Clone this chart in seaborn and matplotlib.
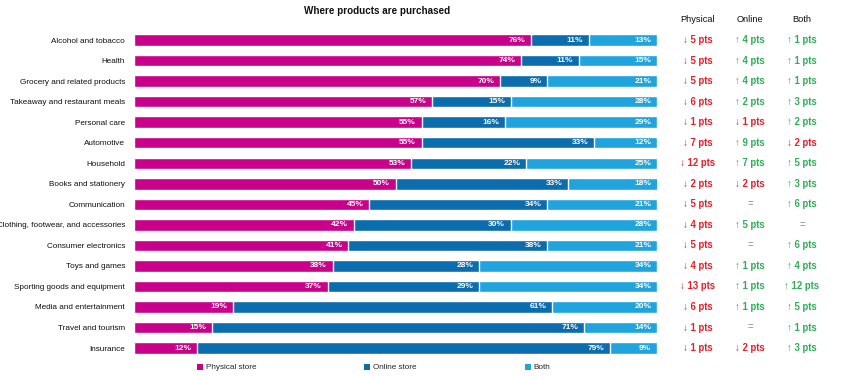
import matplotlib
matplotlib.use("Agg")
import matplotlib.pyplot as plt
from matplotlib.patches import Patch
from matplotlib.transforms import blended_transform_factory
import seaborn as sns
import pandas as pd
import numpy as np

categories = ["Alcohol and tobacco", "Health", "Grocery and related products",
              "Takeaway and restaurant meals", "Personal care", "Automotive",
              "Household", "Books and stationery", "Communication",
              "Clothing, footwear, and accessories", "Consumer electronics",
              "Toys and games", "Sporting goods and equipment",
              "Media and entertainment", "Travel and tourism", "Insurance"]
physical = [76, 74, 70, 57, 55, 55, 53, 50, 45, 42, 41, 38, 37, 19, 15, 12]
online = [11, 11, 9, 15, 16, 33, 22, 33, 34, 30, 38, 28, 29, 61, 71, 79]
both = [13, 15, 21, 28, 29, 12, 25, 18, 21, 28, 21, 34, 34, 20, 14, 9]
chg_physical = [-5, -5, -5, -6, -1, -7, -12, -2, -5, -4, -5, -4, -13, -6, -1, -1]
chg_online = [4, 4, 4, 2, -1, 9, 7, -2, 0, 5, 0, 1, 1, 1, 0, -2]
chg_both = [1, 1, 1, 3, 2, -2, 5, 3, 6, 0, 6, 4, 12, 5, 1, 3]
series_names = ["Physical store", "Online store", "Both"]
col_headers = ["Physical", "Online", "Both"]
title = "Where products are purchased"

C_PHYS = "#c8008a"
C_ONL = "#0b6cae"
C_BOTH = "#1fa4de"
RED = "#e3202c"
GREEN = "#2fae57"
GRAY = "#888888"

sns.set_theme(style="white")
FAM = ["Liberation Sans", "DejaVu Sans"]
plt.rcParams["font.family"] = FAM

df = pd.DataFrame({"cat": categories, "p": physical, "o": online, "b": both})
df["po"] = df["p"] + df["o"]
df["pob"] = df["po"] + df["b"]

fig = plt.figure(figsize=(8.5, 3.76), dpi=100)
ax = fig.add_axes([134 / 850, (376 - 358.3) / 376, 523 / 850, 328.5 / 376])

w = 0.56
sns.barplot(data=df, y="cat", x="pob", color=C_BOTH, orient="h", width=w, ax=ax,
            saturation=1, errorbar=None)
sns.barplot(data=df, y="cat", x="po", color=C_ONL, orient="h", width=w, ax=ax,
            saturation=1, errorbar=None)
sns.barplot(data=df, y="cat", x="p", color=C_PHYS, orient="h", width=w, ax=ax,
            saturation=1, errorbar=None)

ax.set_xlim(0, 100)
ax.set_ylim(len(categories) - 0.5, -0.5)
ax.set_xlabel("")
ax.set_ylabel("")
ax.set_xticks([])
for s in ax.spines.values():
    s.set_visible(False)
ax.tick_params(axis="y", length=0, pad=6.5, labelsize=5.9)
for lab in ax.get_yticklabels():
    lab.set_color("#111111")

# segment labels
for i in range(len(categories)):
    ends = [df["p"][i], df["po"][i], min(df["pob"][i], 100)]
    vals = [physical[i], online[i], both[i]]
    for e, v in zip(ends, vals):
        ax.text(e - 1.1, i, f"{v}%", ha="right", va="center", color="white",
                fontsize=6.0, fontweight="bold")

# title
fig.text(377 / 850, 1 - 11.5 / 376, title, ha="center", va="center",
         fontsize=7.1, fontweight="bold", color="#111111")

# change columns
tr = blended_transform_factory(fig.transFigure, ax.transData)
col_x = [698 / 850, 750 / 850, 802 / 850]
for cx, h in zip(col_x, col_headers):
    fig.text(cx, 1 - 19.5 / 376, h, ha="center", va="center", fontsize=6.7,
             color="#111111")


def fmt(v):
    if v > 0:
        return f"\u2191 {v} pts", GREEN
    if v < 0:
        return f"\u2193 {abs(v)} pts", RED
    return "=", GRAY


for cx, series in zip(col_x, [chg_physical, chg_online, chg_both]):
    for i, v in enumerate(series):
        s, c = fmt(v)
        ax.text(cx, i, s, transform=tr, ha="center", va="center", color=c,
                fontsize=6.9, fontweight="bold" if v != 0 else "normal",
                clip_on=False)

# legend
handles = [Patch(facecolor=c, edgecolor="none", label=n)
           for c, n in zip([C_PHYS, C_ONL, C_BOTH], series_names)]
fig.legend(handles=handles, loc="center left", bbox_to_anchor=(197 / 850, 1 - 367.5 / 376),
           ncol=3, frameon=False, fontsize=5.9, handlelength=0.75, handleheight=0.75,
           handletextpad=0.3, columnspacing=13.2, borderpad=0, borderaxespad=0)

fig.savefig("out.png", dpi=100)
